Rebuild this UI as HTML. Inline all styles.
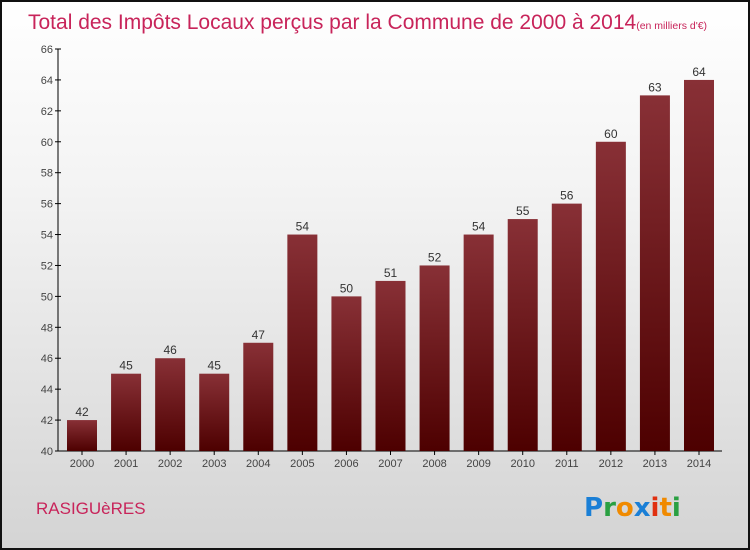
<!DOCTYPE html>
<html><head><meta charset="utf-8"><style>
html,body{margin:0;padding:0}
body{width:750px;height:550px;overflow:hidden;font-family:"Liberation Sans",sans-serif}
#wrap{position:absolute;left:0;top:0;width:746px;height:546px;border:2px solid #111;background:linear-gradient(#ffffff,#f3f3f3 35%,#d4d4d4)}
</style></head><body>
<div id="wrap">
<svg id="chart" width="746" height="546" style="position:absolute;left:0;top:0">
<defs><linearGradient id="bg" x1="0" y1="0" x2="0" y2="1"><stop offset="0" stop-color="#883036"/><stop offset="1" stop-color="#4d0000"/></linearGradient></defs>
<text x="26" y="27" font-size="21" fill="#c8245a" style="font-weight:300">Total des Impôts Locaux perçus par la Commune de 2000 à 2014<tspan font-size="10.5">(en milliers d'€)</tspan></text>
<text x="34" y="512" font-size="17" fill="#c8245a">RASIGUèRES</text>
<g font-size="26" font-weight="bold" font-family="'DejaVu Sans',sans-serif">
<text x="582" y="514"><tspan fill="#1a7fd6">P</tspan><tspan fill="#2aa042">r</tspan><tspan fill="#f08a00">o</tspan><tspan fill="#1a7fd6">x</tspan><tspan fill="#e03010">i</tspan><tspan fill="#f08a00">t</tspan><tspan fill="#2aa042">i</tspan></text>
</g>
<g id="axes"></g><g id="bars"></g>
</svg>
</div>
<script>
const years=["2000","2001","2002","2003","2004","2005","2006","2007","2008","2009","2010","2011","2012","2013","2014"];
const values=[42,45,46,45,47,54,50,51,52,54,55,56,60,63,64];
const yTicks=[40,42,44,46,48,50,52,54,56,58,60,62,64,66];
const NS="http://www.w3.org/2000/svg";
const x0=56,x1=720,yTop=47,yBot=449,vMin=40,vMax=66;
const y=v=>yBot-(v-vMin)/(vMax-vMin)*(yBot-yTop);
const firstC=80,lastC=697;
const xc=i=>firstC+(lastC-firstC)*i/(years.length-1);
function mk(t,a,p){const e=document.createElementNS(NS,t);for(const k in a)e.setAttribute(k,a[k]);p.appendChild(e);return e;}
const ax=document.getElementById('axes'),bg=document.getElementById('bars');
const yl=mk('line',{x1:x0,y1:yTop,x2:x0,y2:yBot,stroke:'#000','stroke-width':1},ax);


const xl=mk('line',{x1:x0,y1:yBot,x2:x1,y2:yBot,stroke:'#000','stroke-width':1},ax);


yTicks.forEach(v=>{
 mk('line',{x1:x0-3,y1:y(v),x2:x0+3,y2:y(v),stroke:'#000'},ax);
 const t=mk('text',{x:x0-5,y:y(v)+4,'text-anchor':'end','font-size':11,fill:'#444'},ax);
 t.textContent=v;
 
 
});
years.forEach((yr,i)=>{
 const c=xc(i),w=30,v=values[i];
 const r=mk('rect',{x:c-w/2,y:y(v),width:w,height:yBot-y(v),fill:'url(#bg)'},bg);
 
 
 const l=mk('text',{x:c,y:y(v)-4,'text-anchor':'middle','font-size':12,fill:'#333'},bg);
 l.textContent=v;
 
 
 mk('line',{x1:c,y1:yBot,x2:c,y2:yBot+4,stroke:'#000'},ax);
 const xt=mk('text',{x:c,y:yBot+16,'text-anchor':'middle','font-size':11,fill:'#444'},ax);
 xt.textContent=yr;
 
 
});
</script>
</body></html>
